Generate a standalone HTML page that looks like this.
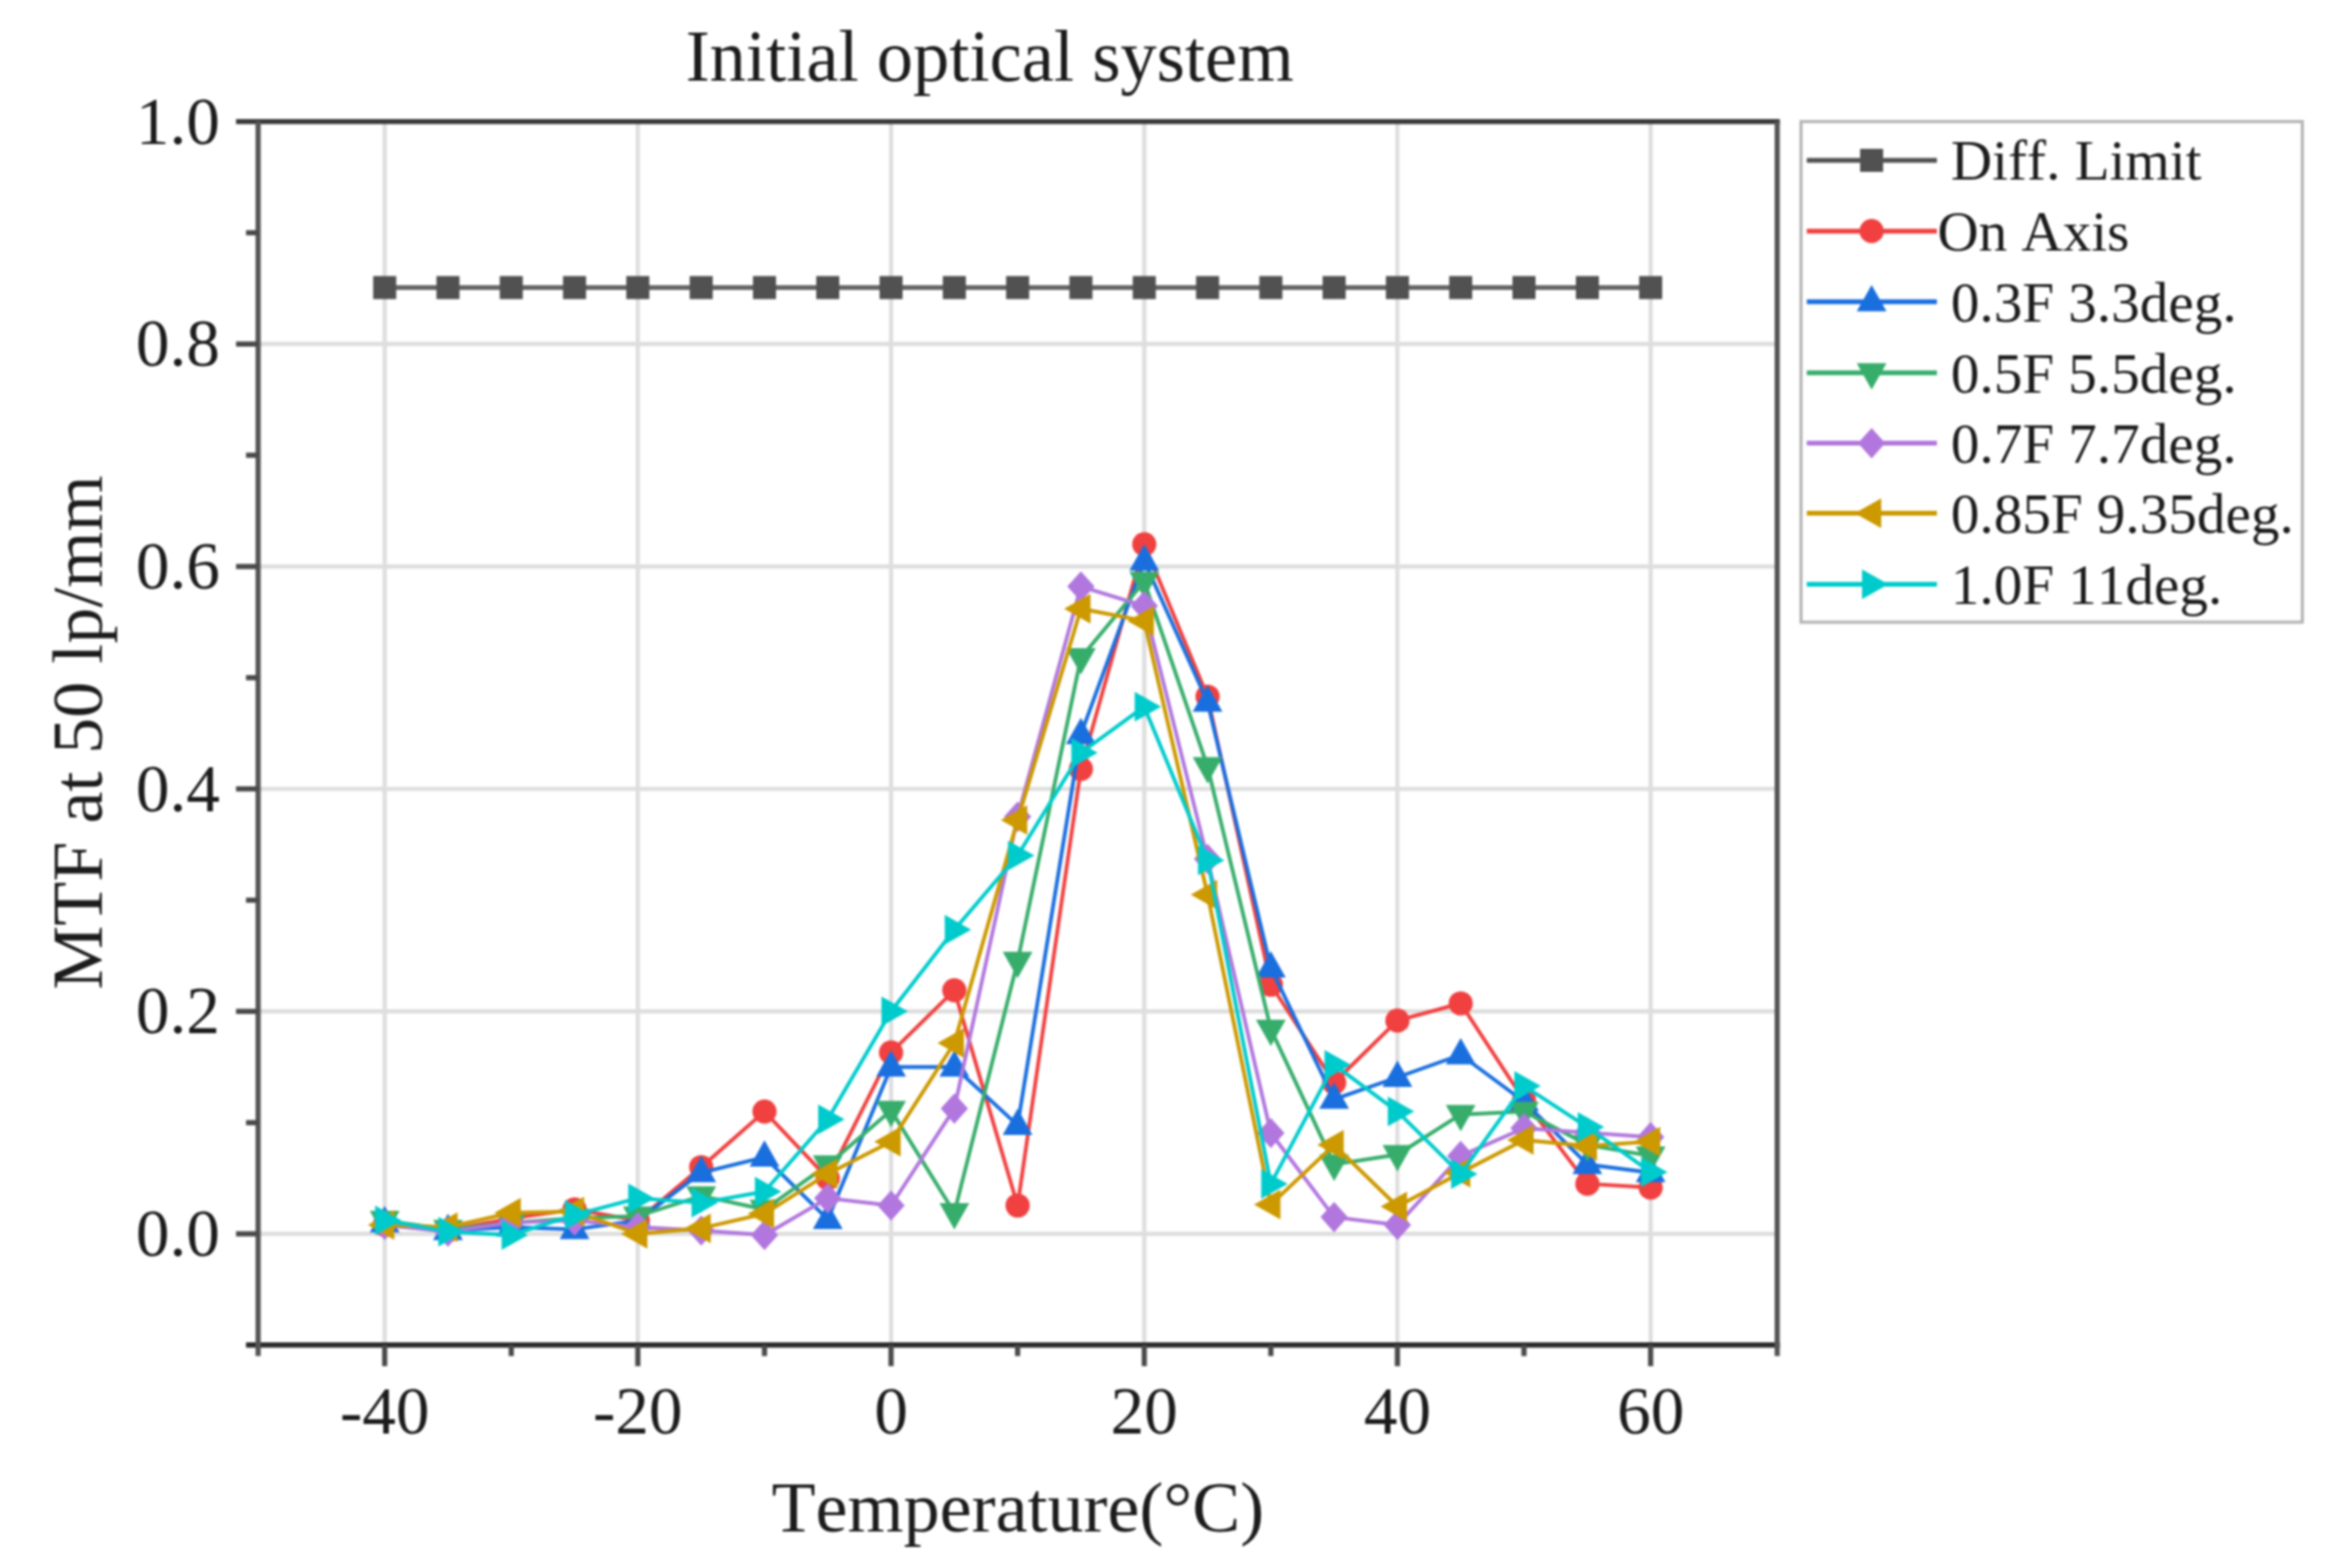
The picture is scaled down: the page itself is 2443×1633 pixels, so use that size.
<!DOCTYPE html>
<html lang="en"><head><meta charset="utf-8"><title>Initial optical system</title>
<style>html,body{margin:0;padding:0;background:#fff}body{width:2443px;height:1633px;overflow:hidden}svg{display:block;filter:blur(1.1px)}text{font-family:"Liberation Serif",serif;fill:#1c1c1c;font-kerning:none;font-variant-ligatures:none;font-feature-settings:"kern" 0,"liga" 0}.tk{font-size:70px}.ti{font-size:75px}.tt{font-size:75.5px}.lg{font-size:59.5px}</style></head><body>
<svg width="2443" height="1633" viewBox="0 0 2443 1633">
<rect width="2443" height="1633" fill="#fff"/>
<g stroke="#dedede" stroke-width="4.4">
<line x1="400.6" y1="126.6" x2="400.6" y2="1400.8"/>
<line x1="664.2" y1="126.6" x2="664.2" y2="1400.8"/>
<line x1="927.9" y1="126.6" x2="927.9" y2="1400.8"/>
<line x1="1191.6" y1="126.6" x2="1191.6" y2="1400.8"/>
<line x1="1455.2" y1="126.6" x2="1455.2" y2="1400.8"/>
<line x1="1718.9" y1="126.6" x2="1718.9" y2="1400.8"/>
<line x1="268.8" y1="1285.0" x2="1850.7" y2="1285.0"/>
<line x1="268.8" y1="1053.3" x2="1850.7" y2="1053.3"/>
<line x1="268.8" y1="821.6" x2="1850.7" y2="821.6"/>
<line x1="268.8" y1="590.0" x2="1850.7" y2="590.0"/>
<line x1="268.8" y1="358.3" x2="1850.7" y2="358.3"/>
</g>
<polyline points="400.6,299.5 466.5,299.5 532.4,299.5 598.3,299.5 664.2,299.5 730.2,299.5 796.1,299.5 862.0,299.5 927.9,299.5 993.8,299.5 1059.7,299.5 1125.6,299.5 1191.6,299.5 1257.5,299.5 1323.4,299.5 1389.3,299.5 1455.2,299.5 1521.1,299.5 1587.0,299.5 1653.0,299.5 1718.9,299.5" fill="none" stroke="#666666" stroke-width="4.9" stroke-linejoin="round"/>
<g><rect x="388.6" y="287.5" width="24" height="24" fill="#515151"/><rect x="454.5" y="287.5" width="24" height="24" fill="#515151"/><rect x="520.4" y="287.5" width="24" height="24" fill="#515151"/><rect x="586.3" y="287.5" width="24" height="24" fill="#515151"/><rect x="652.2" y="287.5" width="24" height="24" fill="#515151"/><rect x="718.2" y="287.5" width="24" height="24" fill="#515151"/><rect x="784.1" y="287.5" width="24" height="24" fill="#515151"/><rect x="850.0" y="287.5" width="24" height="24" fill="#515151"/><rect x="915.9" y="287.5" width="24" height="24" fill="#515151"/><rect x="981.8" y="287.5" width="24" height="24" fill="#515151"/><rect x="1047.7" y="287.5" width="24" height="24" fill="#515151"/><rect x="1113.6" y="287.5" width="24" height="24" fill="#515151"/><rect x="1179.6" y="287.5" width="24" height="24" fill="#515151"/><rect x="1245.5" y="287.5" width="24" height="24" fill="#515151"/><rect x="1311.4" y="287.5" width="24" height="24" fill="#515151"/><rect x="1377.3" y="287.5" width="24" height="24" fill="#515151"/><rect x="1443.2" y="287.5" width="24" height="24" fill="#515151"/><rect x="1509.1" y="287.5" width="24" height="24" fill="#515151"/><rect x="1575.0" y="287.5" width="24" height="24" fill="#515151"/><rect x="1641.0" y="287.5" width="24" height="24" fill="#515151"/><rect x="1706.9" y="287.5" width="24" height="24" fill="#515151"/></g>
<polyline points="400.6,1275.7 466.5,1281.5 532.4,1268.8 598.3,1259.5 664.2,1271.1 730.2,1215.5 796.1,1157.6 862.0,1227.1 927.9,1096.2 993.8,1031.3 1059.7,1255.5 1125.6,800.8 1191.6,566.8 1257.5,725.5 1323.4,1025.5 1389.3,1127.5 1455.2,1062.9 1521.1,1045.0 1587.0,1146.0 1653.0,1232.9 1718.9,1236.8" fill="none" stroke="#F14040" stroke-width="3.9" stroke-linejoin="round"/>
<g><circle cx="400.6" cy="1275.7" r="12.6" fill="#F14040"/><circle cx="466.5" cy="1281.5" r="12.6" fill="#F14040"/><circle cx="532.4" cy="1268.8" r="12.6" fill="#F14040"/><circle cx="598.3" cy="1259.5" r="12.6" fill="#F14040"/><circle cx="664.2" cy="1271.1" r="12.6" fill="#F14040"/><circle cx="730.2" cy="1215.5" r="12.6" fill="#F14040"/><circle cx="796.1" cy="1157.6" r="12.6" fill="#F14040"/><circle cx="862.0" cy="1227.1" r="12.6" fill="#F14040"/><circle cx="927.9" cy="1096.2" r="12.6" fill="#F14040"/><circle cx="993.8" cy="1031.3" r="12.6" fill="#F14040"/><circle cx="1059.7" cy="1255.5" r="12.6" fill="#F14040"/><circle cx="1125.6" cy="800.8" r="12.6" fill="#F14040"/><circle cx="1191.6" cy="566.8" r="12.6" fill="#F14040"/><circle cx="1257.5" cy="725.5" r="12.6" fill="#F14040"/><circle cx="1323.4" cy="1025.5" r="12.6" fill="#F14040"/><circle cx="1389.3" cy="1127.5" r="12.6" fill="#F14040"/><circle cx="1455.2" cy="1062.9" r="12.6" fill="#F14040"/><circle cx="1521.1" cy="1045.0" r="12.6" fill="#F14040"/><circle cx="1587.0" cy="1146.0" r="12.6" fill="#F14040"/><circle cx="1653.0" cy="1232.9" r="12.6" fill="#F14040"/><circle cx="1718.9" cy="1236.8" r="12.6" fill="#F14040"/></g>
<polyline points="400.6,1273.4 466.5,1281.5 532.4,1278.0 598.3,1280.4 664.2,1271.1 730.2,1221.3 796.1,1205.1 862.0,1269.9 927.9,1111.2 993.8,1111.2 1059.7,1171.9 1125.6,764.9 1191.6,584.2 1257.5,731.3 1323.4,1008.1 1389.3,1144.8 1455.2,1122.0 1521.1,1098.5 1587.0,1147.2 1653.0,1212.7 1718.9,1221.3" fill="none" stroke="#1A6FDF" stroke-width="3.9" stroke-linejoin="round"/>
<g><polygon points="400.6,1255.9 385.1,1283.4 416.1,1283.4" fill="#1A6FDF"/><polygon points="466.5,1264.0 451.0,1291.5 482.0,1291.5" fill="#1A6FDF"/><polygon points="532.4,1260.5 516.9,1288.0 547.9,1288.0" fill="#1A6FDF"/><polygon points="598.3,1262.9 582.8,1290.4 613.8,1290.4" fill="#1A6FDF"/><polygon points="664.2,1253.6 648.7,1281.1 679.7,1281.1" fill="#1A6FDF"/><polygon points="730.2,1203.8 714.7,1231.3 745.7,1231.3" fill="#1A6FDF"/><polygon points="796.1,1187.6 780.6,1215.1 811.6,1215.1" fill="#1A6FDF"/><polygon points="862.0,1252.4 846.5,1279.9 877.5,1279.9" fill="#1A6FDF"/><polygon points="927.9,1093.7 912.4,1121.2 943.4,1121.2" fill="#1A6FDF"/><polygon points="993.8,1093.7 978.3,1121.2 1009.3,1121.2" fill="#1A6FDF"/><polygon points="1059.7,1154.4 1044.2,1181.9 1075.2,1181.9" fill="#1A6FDF"/><polygon points="1125.6,747.4 1110.1,774.9 1141.1,774.9" fill="#1A6FDF"/><polygon points="1191.6,566.7 1176.1,594.2 1207.1,594.2" fill="#1A6FDF"/><polygon points="1257.5,713.8 1242.0,741.3 1273.0,741.3" fill="#1A6FDF"/><polygon points="1323.4,990.6 1307.9,1018.1 1338.9,1018.1" fill="#1A6FDF"/><polygon points="1389.3,1127.3 1373.8,1154.8 1404.8,1154.8" fill="#1A6FDF"/><polygon points="1455.2,1104.5 1439.7,1132.0 1470.7,1132.0" fill="#1A6FDF"/><polygon points="1521.1,1081.0 1505.6,1108.5 1536.6,1108.5" fill="#1A6FDF"/><polygon points="1587.0,1129.7 1571.5,1157.2 1602.5,1157.2" fill="#1A6FDF"/><polygon points="1653.0,1195.2 1637.5,1222.7 1668.5,1222.7" fill="#1A6FDF"/><polygon points="1718.9,1203.8 1703.4,1231.3 1734.4,1231.3" fill="#1A6FDF"/></g>
<polyline points="400.6,1271.1 466.5,1280.4 532.4,1273.4 598.3,1268.8 664.2,1266.5 730.2,1245.6 796.1,1259.5 862.0,1213.2 927.9,1156.4 993.8,1263.0 1059.7,1001.2 1125.6,684.9 1191.6,605.6 1257.5,798.5 1323.4,1071.9 1389.3,1212.6 1455.2,1202.5 1521.1,1160.7 1587.0,1157.6 1653.0,1192.3 1718.9,1203.9" fill="none" stroke="#37AD6B" stroke-width="3.9" stroke-linejoin="round"/>
<g><polygon points="400.6,1288.6 385.1,1261.1 416.1,1261.1" fill="#37AD6B"/><polygon points="466.5,1297.9 451.0,1270.4 482.0,1270.4" fill="#37AD6B"/><polygon points="532.4,1290.9 516.9,1263.4 547.9,1263.4" fill="#37AD6B"/><polygon points="598.3,1286.3 582.8,1258.8 613.8,1258.8" fill="#37AD6B"/><polygon points="664.2,1284.0 648.7,1256.5 679.7,1256.5" fill="#37AD6B"/><polygon points="730.2,1263.1 714.7,1235.6 745.7,1235.6" fill="#37AD6B"/><polygon points="796.1,1277.0 780.6,1249.5 811.6,1249.5" fill="#37AD6B"/><polygon points="862.0,1230.7 846.5,1203.2 877.5,1203.2" fill="#37AD6B"/><polygon points="927.9,1173.9 912.4,1146.4 943.4,1146.4" fill="#37AD6B"/><polygon points="993.8,1280.5 978.3,1253.0 1009.3,1253.0" fill="#37AD6B"/><polygon points="1059.7,1018.7 1044.2,991.2 1075.2,991.2" fill="#37AD6B"/><polygon points="1125.6,702.4 1110.1,674.9 1141.1,674.9" fill="#37AD6B"/><polygon points="1191.6,623.1 1176.1,595.6 1207.1,595.6" fill="#37AD6B"/><polygon points="1257.5,816.0 1242.0,788.5 1273.0,788.5" fill="#37AD6B"/><polygon points="1323.4,1089.4 1307.9,1061.9 1338.9,1061.9" fill="#37AD6B"/><polygon points="1389.3,1230.1 1373.8,1202.6 1404.8,1202.6" fill="#37AD6B"/><polygon points="1455.2,1220.0 1439.7,1192.5 1470.7,1192.5" fill="#37AD6B"/><polygon points="1521.1,1178.2 1505.6,1150.7 1536.6,1150.7" fill="#37AD6B"/><polygon points="1587.0,1175.1 1571.5,1147.6 1602.5,1147.6" fill="#37AD6B"/><polygon points="1653.0,1209.8 1637.5,1182.3 1668.5,1182.3" fill="#37AD6B"/><polygon points="1718.9,1221.4 1703.4,1193.9 1734.4,1193.9" fill="#37AD6B"/></g>
<polyline points="400.6,1275.7 466.5,1282.7 532.4,1273.4 598.3,1271.1 664.2,1278.0 730.2,1281.5 796.1,1286.2 862.0,1247.9 927.9,1255.5 993.8,1154.6 1059.7,850.6 1125.6,610.8 1191.6,631.1 1257.5,894.6 1323.4,1180.0 1389.3,1267.6 1455.2,1275.7 1521.1,1203.9 1587.0,1175.0 1653.0,1179.6 1718.9,1184.2" fill="none" stroke="#B177DE" stroke-width="3.9" stroke-linejoin="round"/>
<g><polygon points="400.6,1259.9 414.8,1275.7 400.6,1291.5 386.4,1275.7" fill="#B177DE"/><polygon points="466.5,1266.9 480.7,1282.7 466.5,1298.5 452.3,1282.7" fill="#B177DE"/><polygon points="532.4,1257.6 546.6,1273.4 532.4,1289.2 518.2,1273.4" fill="#B177DE"/><polygon points="598.3,1255.3 612.5,1271.1 598.3,1286.9 584.1,1271.1" fill="#B177DE"/><polygon points="664.2,1262.2 678.4,1278.0 664.2,1293.8 650.0,1278.0" fill="#B177DE"/><polygon points="730.2,1265.7 744.4,1281.5 730.2,1297.3 716.0,1281.5" fill="#B177DE"/><polygon points="796.1,1270.4 810.3,1286.2 796.1,1302.0 781.9,1286.2" fill="#B177DE"/><polygon points="862.0,1232.1 876.2,1247.9 862.0,1263.7 847.8,1247.9" fill="#B177DE"/><polygon points="927.9,1239.7 942.1,1255.5 927.9,1271.3 913.7,1255.5" fill="#B177DE"/><polygon points="993.8,1138.8 1008.0,1154.6 993.8,1170.4 979.6,1154.6" fill="#B177DE"/><polygon points="1059.7,834.8 1073.9,850.6 1059.7,866.4 1045.5,850.6" fill="#B177DE"/><polygon points="1125.6,595.0 1139.8,610.8 1125.6,626.6 1111.4,610.8" fill="#B177DE"/><polygon points="1191.6,615.3 1205.8,631.1 1191.6,646.9 1177.4,631.1" fill="#B177DE"/><polygon points="1257.5,878.8 1271.7,894.6 1257.5,910.4 1243.3,894.6" fill="#B177DE"/><polygon points="1323.4,1164.2 1337.6,1180.0 1323.4,1195.8 1309.2,1180.0" fill="#B177DE"/><polygon points="1389.3,1251.8 1403.5,1267.6 1389.3,1283.4 1375.1,1267.6" fill="#B177DE"/><polygon points="1455.2,1259.9 1469.4,1275.7 1455.2,1291.5 1441.0,1275.7" fill="#B177DE"/><polygon points="1521.1,1188.1 1535.3,1203.9 1521.1,1219.7 1506.9,1203.9" fill="#B177DE"/><polygon points="1587.0,1159.2 1601.2,1175.0 1587.0,1190.8 1572.8,1175.0" fill="#B177DE"/><polygon points="1653.0,1163.8 1667.2,1179.6 1653.0,1195.4 1638.8,1179.6" fill="#B177DE"/><polygon points="1718.9,1168.4 1733.1,1184.2 1718.9,1200.0 1704.7,1184.2" fill="#B177DE"/></g>
<polyline points="400.6,1275.7 466.5,1278.0 532.4,1263.0 598.3,1261.8 664.2,1285.0 730.2,1279.2 796.1,1264.1 862.0,1222.4 927.9,1188.9 993.8,1086.3 1059.7,854.1 1125.6,634.0 1191.6,646.7 1257.5,931.7 1323.4,1254.4 1389.3,1192.3 1455.2,1256.5 1521.1,1221.3 1587.0,1187.2 1653.0,1193.5 1718.9,1188.9" fill="none" stroke="#CC9900" stroke-width="3.9" stroke-linejoin="round"/>
<g><polygon points="383.1,1275.7 410.6,1260.2 410.6,1291.2" fill="#CC9900"/><polygon points="449.0,1278.0 476.5,1262.5 476.5,1293.5" fill="#CC9900"/><polygon points="514.9,1263.0 542.4,1247.5 542.4,1278.5" fill="#CC9900"/><polygon points="580.8,1261.8 608.3,1246.3 608.3,1277.3" fill="#CC9900"/><polygon points="646.7,1285.0 674.2,1269.5 674.2,1300.5" fill="#CC9900"/><polygon points="712.7,1279.2 740.2,1263.7 740.2,1294.7" fill="#CC9900"/><polygon points="778.6,1264.1 806.1,1248.6 806.1,1279.6" fill="#CC9900"/><polygon points="844.5,1222.4 872.0,1206.9 872.0,1237.9" fill="#CC9900"/><polygon points="910.4,1188.9 937.9,1173.4 937.9,1204.4" fill="#CC9900"/><polygon points="976.3,1086.3 1003.8,1070.8 1003.8,1101.8" fill="#CC9900"/><polygon points="1042.2,854.1 1069.7,838.6 1069.7,869.6" fill="#CC9900"/><polygon points="1108.1,634.0 1135.6,618.5 1135.6,649.5" fill="#CC9900"/><polygon points="1174.1,646.7 1201.6,631.2 1201.6,662.2" fill="#CC9900"/><polygon points="1240.0,931.7 1267.5,916.2 1267.5,947.2" fill="#CC9900"/><polygon points="1305.9,1254.4 1333.4,1238.9 1333.4,1269.9" fill="#CC9900"/><polygon points="1371.8,1192.3 1399.3,1176.8 1399.3,1207.8" fill="#CC9900"/><polygon points="1437.7,1256.5 1465.2,1241.0 1465.2,1272.0" fill="#CC9900"/><polygon points="1503.6,1221.3 1531.1,1205.8 1531.1,1236.8" fill="#CC9900"/><polygon points="1569.5,1187.2 1597.0,1171.7 1597.0,1202.7" fill="#CC9900"/><polygon points="1635.5,1193.5 1663.0,1178.0 1663.0,1209.0" fill="#CC9900"/><polygon points="1701.4,1188.9 1728.9,1173.4 1728.9,1204.4" fill="#CC9900"/></g>
<polyline points="400.6,1271.1 466.5,1282.7 532.4,1286.2 598.3,1265.3 664.2,1247.9 730.2,1252.6 796.1,1241.0 862.0,1165.7 927.9,1053.3 993.8,968.3 1059.7,891.1 1125.6,784.0 1191.6,735.9 1257.5,896.0 1323.4,1232.9 1389.3,1108.9 1455.2,1157.6 1521.1,1222.8 1587.0,1130.9 1653.0,1173.8 1718.9,1220.7" fill="none" stroke="#00CBCC" stroke-width="3.9" stroke-linejoin="round"/>
<g><polygon points="418.1,1271.1 390.6,1255.6 390.6,1286.6" fill="#00CBCC"/><polygon points="484.0,1282.7 456.5,1267.2 456.5,1298.2" fill="#00CBCC"/><polygon points="549.9,1286.2 522.4,1270.7 522.4,1301.7" fill="#00CBCC"/><polygon points="615.8,1265.3 588.3,1249.8 588.3,1280.8" fill="#00CBCC"/><polygon points="681.7,1247.9 654.2,1232.4 654.2,1263.4" fill="#00CBCC"/><polygon points="747.7,1252.6 720.2,1237.1 720.2,1268.1" fill="#00CBCC"/><polygon points="813.6,1241.0 786.1,1225.5 786.1,1256.5" fill="#00CBCC"/><polygon points="879.5,1165.7 852.0,1150.2 852.0,1181.2" fill="#00CBCC"/><polygon points="945.4,1053.3 917.9,1037.8 917.9,1068.8" fill="#00CBCC"/><polygon points="1011.3,968.3 983.8,952.8 983.8,983.8" fill="#00CBCC"/><polygon points="1077.2,891.1 1049.7,875.6 1049.7,906.6" fill="#00CBCC"/><polygon points="1143.1,784.0 1115.6,768.5 1115.6,799.5" fill="#00CBCC"/><polygon points="1209.1,735.9 1181.6,720.4 1181.6,751.4" fill="#00CBCC"/><polygon points="1275.0,896.0 1247.5,880.5 1247.5,911.5" fill="#00CBCC"/><polygon points="1340.9,1232.9 1313.4,1217.4 1313.4,1248.4" fill="#00CBCC"/><polygon points="1406.8,1108.9 1379.3,1093.4 1379.3,1124.4" fill="#00CBCC"/><polygon points="1472.7,1157.6 1445.2,1142.1 1445.2,1173.1" fill="#00CBCC"/><polygon points="1538.6,1222.8 1511.1,1207.3 1511.1,1238.3" fill="#00CBCC"/><polygon points="1604.5,1130.9 1577.0,1115.4 1577.0,1146.4" fill="#00CBCC"/><polygon points="1670.5,1173.8 1643.0,1158.3 1643.0,1189.3" fill="#00CBCC"/><polygon points="1736.4,1220.7 1708.9,1205.2 1708.9,1236.2" fill="#00CBCC"/></g>
<g stroke="#4a4a4a" stroke-width="5.4" fill="none">
<line x1="245.8" y1="126.6" x2="1853.4" y2="126.6" stroke="#3a3a3a"/>
<line x1="256.2" y1="1400.8" x2="1853.4" y2="1400.8" stroke="#2a2a2a"/>
<line x1="268.8" y1="126.6" x2="268.8" y2="1412.3" stroke="#555"/>
<line x1="1850.7" y1="126.6" x2="1850.7" y2="1412.3" stroke="#555"/>
<line x1="400.6" y1="1400.8" x2="400.6" y2="1422.8"/>
<line x1="664.2" y1="1400.8" x2="664.2" y2="1422.8"/>
<line x1="927.9" y1="1400.8" x2="927.9" y2="1422.8"/>
<line x1="1191.6" y1="1400.8" x2="1191.6" y2="1422.8"/>
<line x1="1455.2" y1="1400.8" x2="1455.2" y2="1422.8"/>
<line x1="1718.9" y1="1400.8" x2="1718.9" y2="1422.8"/>
<line x1="532.4" y1="1400.8" x2="532.4" y2="1412.3"/>
<line x1="796.1" y1="1400.8" x2="796.1" y2="1412.3"/>
<line x1="1059.7" y1="1400.8" x2="1059.7" y2="1412.3"/>
<line x1="1323.4" y1="1400.8" x2="1323.4" y2="1412.3"/>
<line x1="1587.0" y1="1400.8" x2="1587.0" y2="1412.3"/>
<line x1="245.8" y1="1285.0" x2="268.8" y2="1285.0"/>
<line x1="245.8" y1="1053.3" x2="268.8" y2="1053.3"/>
<line x1="245.8" y1="821.6" x2="268.8" y2="821.6"/>
<line x1="245.8" y1="590.0" x2="268.8" y2="590.0"/>
<line x1="245.8" y1="358.3" x2="268.8" y2="358.3"/>
<line x1="256.2" y1="1169.2" x2="268.8" y2="1169.2"/>
<line x1="256.2" y1="937.5" x2="268.8" y2="937.5"/>
<line x1="256.2" y1="705.8" x2="268.8" y2="705.8"/>
<line x1="256.2" y1="474.1" x2="268.8" y2="474.1"/>
<line x1="256.2" y1="242.4" x2="268.8" y2="242.4"/>
</g>
<text class="tk" x="400.6" y="1493.3" text-anchor="middle">-40</text>
<text class="tk" x="664.2" y="1493.3" text-anchor="middle">-20</text>
<text class="tk" x="927.9" y="1493.3" text-anchor="middle">0</text>
<text class="tk" x="1191.6" y="1493.3" text-anchor="middle">20</text>
<text class="tk" x="1455.2" y="1493.3" text-anchor="middle">40</text>
<text class="tk" x="1718.9" y="1493.3" text-anchor="middle">60</text>
<text class="tk" x="229" y="1308.0" text-anchor="end">0.0</text>
<text class="tk" x="229" y="1076.3" text-anchor="end">0.2</text>
<text class="tk" x="229" y="844.6" text-anchor="end">0.4</text>
<text class="tk" x="229" y="613.0" text-anchor="end">0.6</text>
<text class="tk" x="229" y="381.3" text-anchor="end">0.8</text>
<text class="tk" x="229" y="149.6" text-anchor="end">1.0</text>
<text class="tt" x="1030.5" y="83.8" text-anchor="middle">Initial optical system</text>
<text class="ti" x="1060" y="1594.5" text-anchor="middle">Temperature(°C)</text>
<text class="ti" transform="translate(106 763) rotate(-90)" text-anchor="middle">MTF at 50 lp/mm</text>
<rect x="1875.5" y="126.6" width="522" height="521.4" fill="#fff" stroke="#b4b4b4" stroke-width="3.2"/>
<line x1="1881.5" y1="167" x2="2017" y2="167" stroke="#515151" stroke-width="5"/>
<rect x="1937.0" y="155.0" width="24" height="24" fill="#515151"/>
<text class="lg" x="2031.5" y="187.3">Diff. Limit</text>
<line x1="1881.5" y1="240.7" x2="2017" y2="240.7" stroke="#F14040" stroke-width="5"/>
<circle cx="1949.0" cy="240.7" r="12.6" fill="#F14040"/>
<text class="lg" x="2017.5" y="261.0">On Axis</text>
<line x1="1881.5" y1="314.3" x2="2017" y2="314.3" stroke="#1A6FDF" stroke-width="5"/>
<polygon points="1949.0,296.8 1933.5,324.3 1964.5,324.3" fill="#1A6FDF"/>
<text class="lg" x="2031.5" y="334.6">0.3F 3.3deg.</text>
<line x1="1881.5" y1="388.2" x2="2017" y2="388.2" stroke="#37AD6B" stroke-width="5"/>
<polygon points="1949.0,405.7 1933.5,378.2 1964.5,378.2" fill="#37AD6B"/>
<text class="lg" x="2031.5" y="408.5">0.5F 5.5deg.</text>
<line x1="1881.5" y1="461.6" x2="2017" y2="461.6" stroke="#B177DE" stroke-width="5"/>
<polygon points="1949.0,445.8 1963.2,461.6 1949.0,477.4 1934.8,461.6" fill="#B177DE"/>
<text class="lg" x="2031.5" y="481.9">0.7F 7.7deg.</text>
<line x1="1881.5" y1="534.5" x2="2017" y2="534.5" stroke="#CC9900" stroke-width="5"/>
<polygon points="1931.5,534.5 1959.0,519.0 1959.0,550.0" fill="#CC9900"/>
<text class="lg" x="2031.5" y="554.8">0.85F 9.35deg.</text>
<line x1="1881.5" y1="608.4" x2="2017" y2="608.4" stroke="#00CBCC" stroke-width="5"/>
<polygon points="1966.5,608.4 1939.0,592.9 1939.0,623.9" fill="#00CBCC"/>
<text class="lg" x="2031.5" y="628.7">1.0F 11deg.</text>
</svg></body></html>
